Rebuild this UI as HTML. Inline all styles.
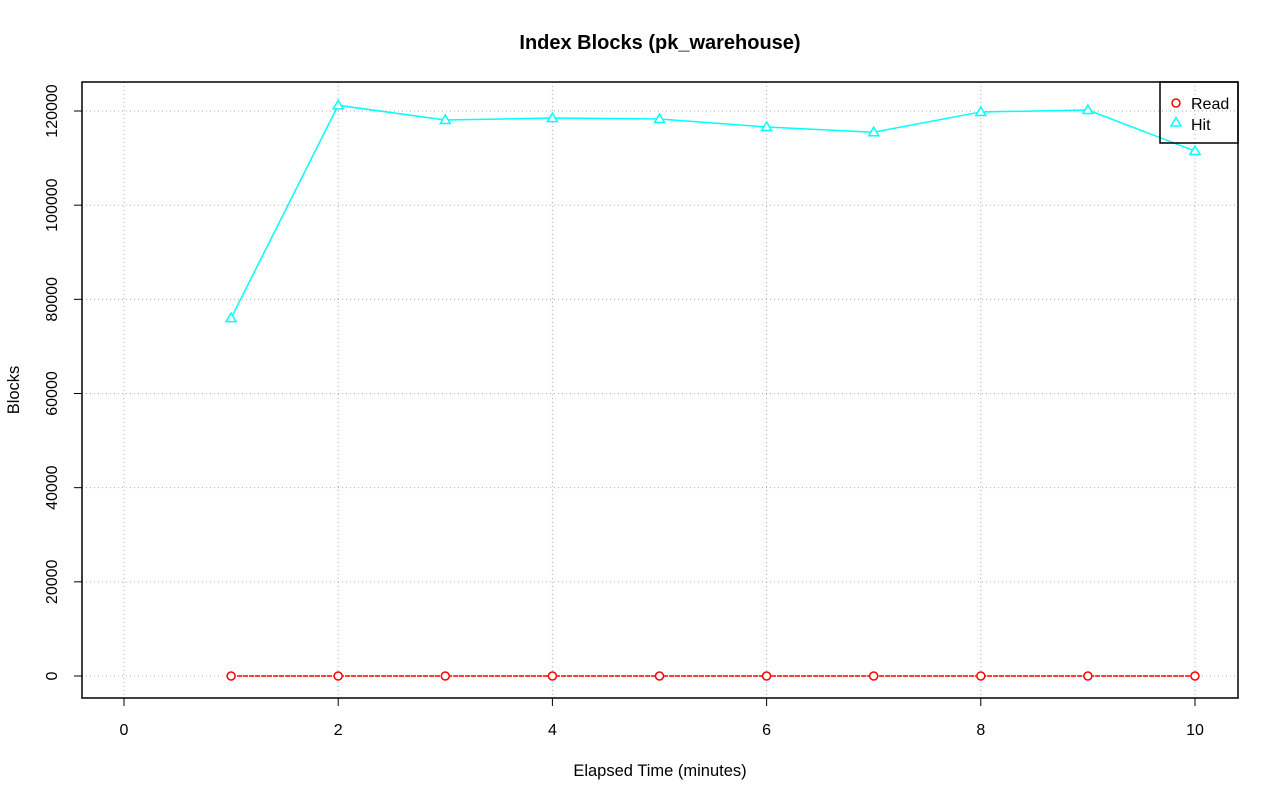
<!DOCTYPE html>
<html><head><meta charset="utf-8"><style>
body{margin:0;background:#fff;}
svg{display:block;font-family:"Liberation Sans",sans-serif;}
</style></head><body>
<svg id="chart" width="1280" height="801">
<text x="660" y="49" text-anchor="middle" font-size="20" font-weight="bold">Index Blocks (pk_warehouse)</text>
<text x="660" y="776" text-anchor="middle" font-size="16.5">Elapsed Time (minutes)</text>
<text transform="translate(19,390) rotate(-90)" text-anchor="middle" font-size="16.5">Blocks</text>
<g id="grid"></g>
<g id="axes"></g>
<g id="series"></g>
<rect x="82" y="82" width="1156" height="616" fill="none" stroke="#000" stroke-width="1.5"/>
<g>
<rect x="1160" y="82" width="78" height="61" fill="none" stroke="#000" stroke-width="1.5"/>
<g>
<circle cx="1176" cy="103" r="4" fill="none" stroke="#f00" stroke-width="1.5"/>
<text x="1191" y="109" font-size="16">Read</text></g>
<g>
<path d="M1176,117.5 L1181,126 L1171,126 Z" fill="none" stroke="#0ff" stroke-width="1.5"/>
<text x="1191" y="130" font-size="16">Hit</text></g>
</g>
</svg>
<script>
const minutes=[1,2,3,4,5,6,7,8,9,10];
const readValues=[0,0,0,0,0,0,0,0,0,0];
const hitValues=[76000,121200,118100,118500,118300,116600,115500,119800,120200,111500];
const xTicks=[0,2,4,6,8,10];
const yTicks=[0,20000,40000,60000,80000,100000,120000];
const NS="http://www.w3.org/2000/svg";
const xs=v=>124+v*107.1;
const ys=v=>676-v*565/120000;
function mk(tag,attrs,parent){const e=document.createElementNS(NS,tag);for(const k in attrs)e.setAttribute(k,attrs[k]);parent.appendChild(e);return e;}
const grid=document.getElementById('grid'),axes=document.getElementById('axes'),ser=document.getElementById('series');
xTicks.forEach(t=>{
 const g=mk('line',{x1:xs(t),x2:xs(t),y1:82,y2:698,stroke:'#aaa','stroke-dasharray':'1 3'},grid);
 
 
 const l=mk('line',{x1:xs(t),x2:xs(t),y1:698,y2:706,stroke:'#000'},axes);
 
 
 const tx=mk('text',{x:xs(t),y:735,'text-anchor':'middle','font-size':'16'},axes);tx.textContent=t;
 
 
});
yTicks.forEach(t=>{
 const g=mk('line',{x1:82,x2:1238,y1:ys(t),y2:ys(t),stroke:'#aaa','stroke-dasharray':'1 3'},grid);
 
 
 const l=mk('line',{x1:74,x2:82,y1:ys(t),y2:ys(t),stroke:'#000'},axes);
 
 
 const tx=mk('text',{transform:`translate(57,${ys(t)}) rotate(-90)`,'text-anchor':'middle','font-size':'16'},axes);tx.textContent=t;
 
 
});
const hp=mk('polyline',{points:minutes.map((m,i)=>xs(m)+','+ys(hitValues[i])).join(' '),fill:'none',stroke:'#0ff','stroke-width':1.5},ser);


const rp=mk('polyline',{points:minutes.map((m,i)=>xs(m)+','+ys(readValues[i])).join(' '),fill:'none',stroke:'#f00','stroke-width':1.5,'stroke-dasharray':'5 1'},ser);


minutes.forEach((m,i)=>{
 const x=xs(m),y=ys(hitValues[i]);
 const p=mk('path',{d:`M${x},${y-5} L${x+5},${y+3.5} L${x-5},${y+3.5} Z`,fill:'#fff',stroke:'#0ff','stroke-width':1.5},ser);
 
 
 const c=mk('circle',{cx:x,cy:ys(readValues[i]),r:4,fill:'#fff',stroke:'#f00','stroke-width':1.5},ser);
 
 
});
</script>
</body></html>
